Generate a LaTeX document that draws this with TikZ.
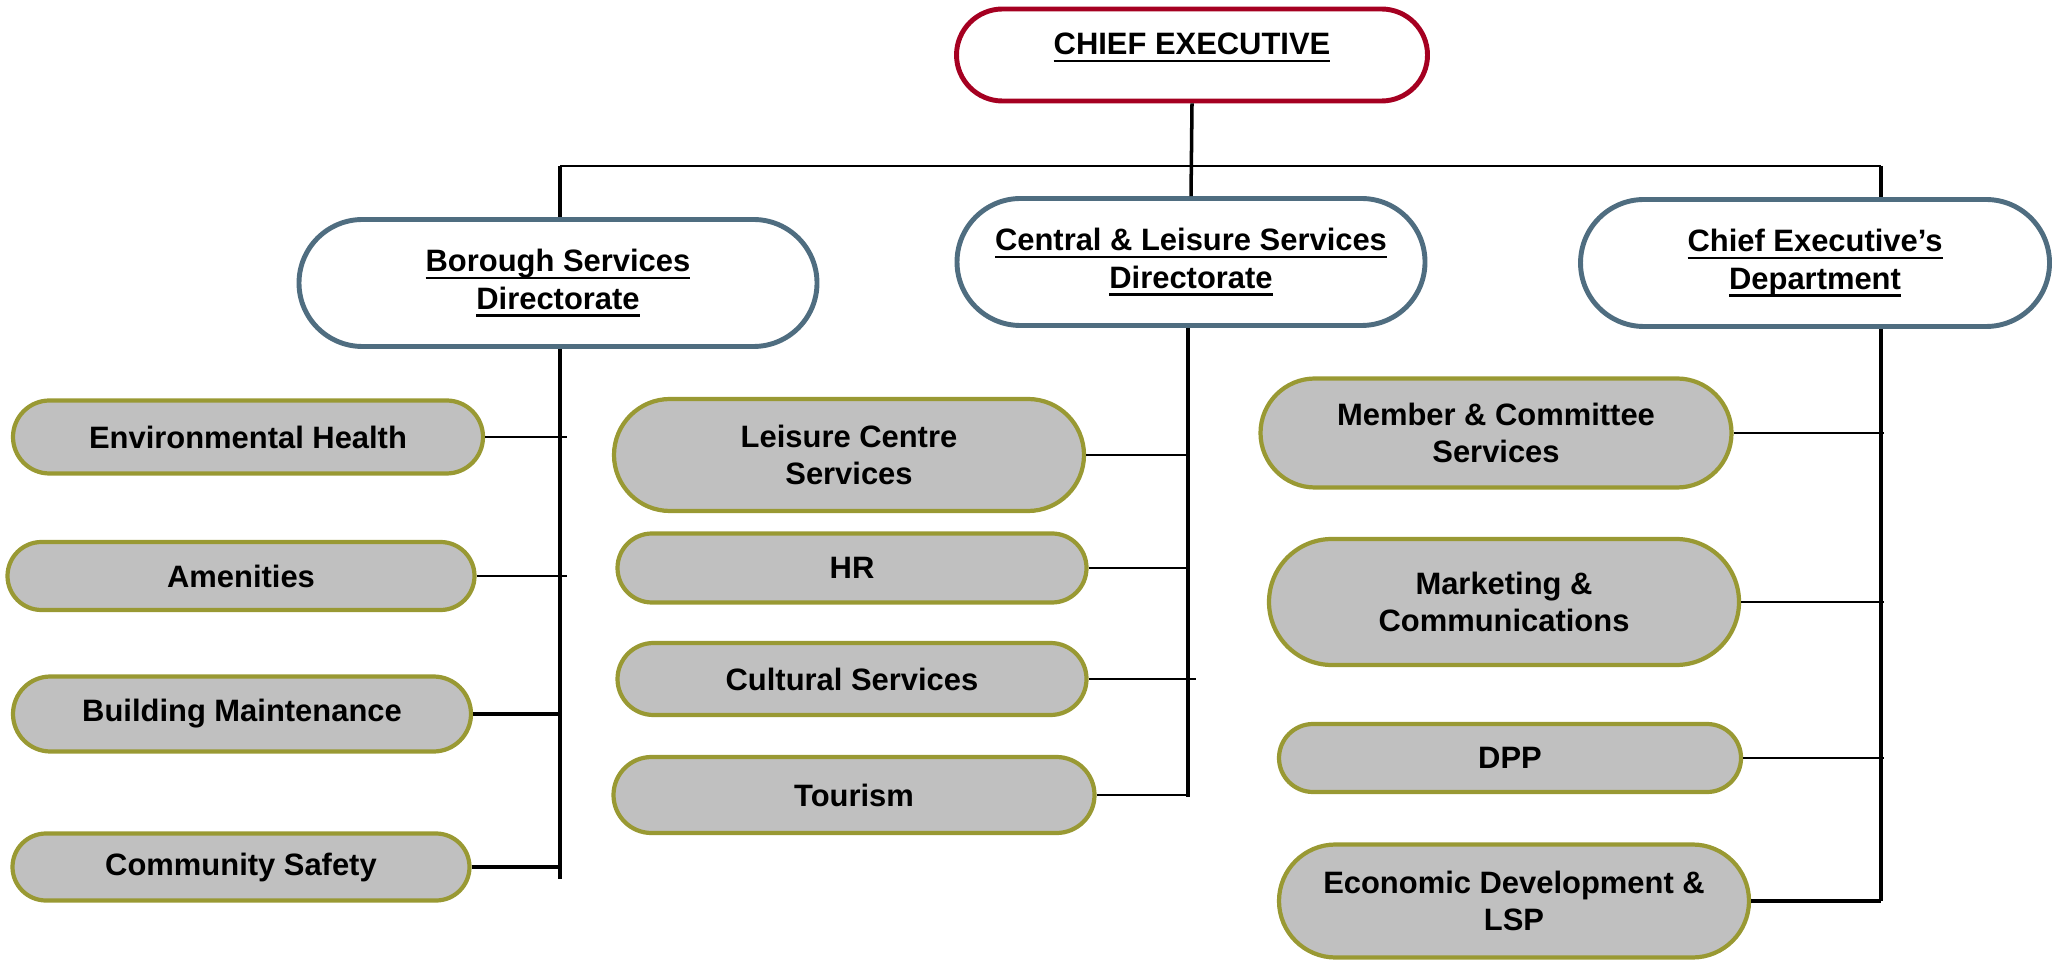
\documentclass[tikz,border=0pt]{standalone}
\usepackage{fontspec}
\setmainfont{Liberation Sans}
\usetikzlibrary{shapes.misc}
\definecolor{chiefred}{HTML}{A50021}
\definecolor{dirblue}{HTML}{4F6D80}
\definecolor{unitolive}{HTML}{999933}
\definecolor{unitgrey}{HTML}{C0C0C0}
\newcommand\ulined[1]{\setbox0=\hbox{#1}\usebox0\llap{\rule[-0.075cm]{\wd0}{0.028cm}}}
\tikzset{
  every node/.style={font=\fontsize{8.8}{10.6}\selectfont\bfseries,align=center,inner sep=0pt},
  chiefbox/.style={rounded rectangle,draw=chiefred,line width=1.4pt,fill=white},
  dirbox/.style={rounded rectangle,draw=dirblue,line width=1.4pt,fill=white},
  unitbox/.style={rounded rectangle,draw=unitolive,line width=1.2pt,fill=unitgrey},
  trunk/.style={line width=1pt},
  thinlink/.style={line width=0.45pt},
  thicklink/.style={line width=1pt}
}
\begin{document}
\begin{tikzpicture}
\useasboundingbox(0,0)rectangle(20.53,-9.62);
\node[chiefbox,minimum width=4.71cm,minimum height=0.92cm,text height=0.3cm,text depth=0.3cm](chief)at(11.92,-0.55){\ulined{CHIEF EXECUTIVE}};
\foreach \n/\x/\y/\w/\t in {borough/5.58/-2.83/5.18/{\ulined{Borough Services}\\\ulined{Directorate}},
  central/11.91/-2.62/4.68/{\ulined{Central \& Leisure Services}\\\ulined{Directorate}},
  dept/18.15/-2.63/4.69/{\ulined{Chief Executive's}\\\ulined{Department}}}{
  \node[dirbox,minimum width=\w cm,minimum height=1.27cm](\n)at(\x,\y){\t};
}
\foreach \n/\x/\y/\w/\h/\t in {env/2.48/-4.37/4.70/0.73/{Environmental Health},
  amen/2.41/-5.76/4.67/0.68/{Amenities},
  build/2.42/-7.14/4.58/0.75/{Building Maintenance},
  safety/2.41/-8.67/4.57/0.67/{Community Safety},
  leisure/8.49/-4.55/4.70/1.12/{Leisure Centre\\Services},
  hr/8.52/-5.68/4.69/0.69/{HR},
  culture/8.52/-6.79/4.69/0.72/{Cultural Services},
  tourism/8.54/-7.95/4.81/0.76/{Tourism},
  member/14.96/-4.33/4.71/1.09/{Member \& Committee\\Services},
  marketing/15.04/-6.02/4.70/1.26/{Marketing \&\\Communications},
  dpp/15.10/-7.58/4.62/0.68/{DPP},
  econ/15.14/-9.01/4.70/1.13/{Economic Development \&\\LSP}}{
  \node[unitbox,minimum width=\w cm,minimum height=\h cm](\n)at(\x,\y){\t};
}
% top level
\coordinate(barL)at(5.60,-1.66);
\coordinate(barR)at(18.81,-1.66);
\draw[trunk](chief.south)--(central.north);
\draw[thinlink,line width=0.7pt](barL)--(barR);
\draw[trunk](barL)--(barL|-borough.north);
\draw[trunk](barR)--(barR|-dept.north);
% trunks
\coordinate(bEnd)at(5.60,-8.79);
\coordinate(cEnd)at(11.88,-7.97);
\coordinate(dEnd)at(18.81,-9.01);
\draw[trunk](bEnd|-borough.south)--(bEnd);
\draw[trunk](cEnd|-central.south)--(cEnd);
\draw[trunk](barR|-dept.south)--(dEnd);
% units
\foreach \n in {env,amen}
  \draw[thinlink](\n.east)--([xshift=0.07cm]\n.east-|bEnd);
\foreach \n in {build,safety}
  \draw[thicklink](\n.east)--(\n.east-|bEnd);
\foreach \n in {leisure,hr,tourism}
  \draw[thinlink](\n.east)--(\n.east-|cEnd);
\draw[thinlink](culture.east)--([xshift=0.08cm]culture.east-|cEnd);
\foreach \n in {member,marketing,dpp}
  \draw[thinlink](\n.east)--([xshift=0.03cm]\n.east-|dEnd);
\draw[thicklink](econ.east)--(econ.east-|dEnd);
\end{tikzpicture}
\end{document}
